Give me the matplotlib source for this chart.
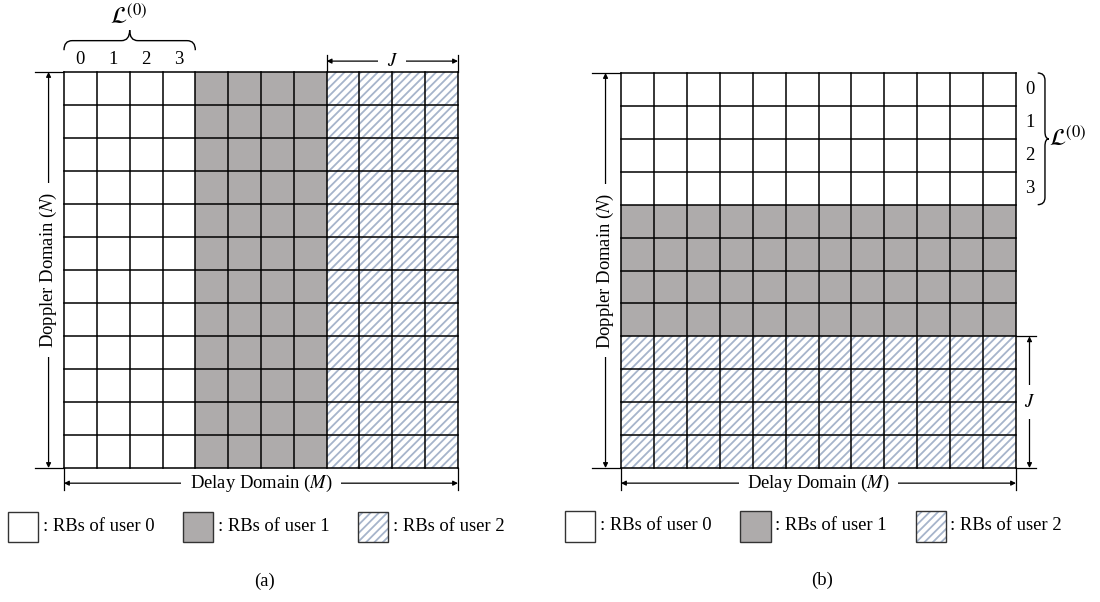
import matplotlib
matplotlib.use("Agg")
import matplotlib.pyplot as plt
from matplotlib.patches import Rectangle, PathPatch
from matplotlib.path import Path

plt.rcParams['font.family'] = ['Liberation Serif', 'DejaVu Serif']
plt.rcParams['mathtext.fontset'] = 'stix'
plt.rcParams['hatch.linewidth'] = 1.3

# resource grid: 12 delay bins x 12 Doppler bins
M = 12
N = 12
# which user owns each column (a) / each row (b)
owner_a = [0, 0, 0, 0, 1, 1, 1, 1, 2, 2, 2, 2]
owner_b = [0, 0, 0, 0, 1, 1, 1, 1, 2, 2, 2, 2]
index_labels = ["0", "1", "2", "3"]
legend_labels = [": RBs of user 0", ": RBs of user 1", ": RBs of user 2"]
panel_tags = ["(a)", "(b)"]

GRAY = '#aeabab'
HATCH = '#a6b4cb'
FS = 13.4


def user_cell(ax, x, y, w, h, user, edge=None, lw=0, z=2):
    if user == 2:
        p = Rectangle((x, y), w, h, facecolor='white', edgecolor=HATCH,
                      hatch='////', lw=0, zorder=z, clip_on=False)
        ax.add_patch(p)
        if edge:
            ax.add_patch(Rectangle((x, y), w, h, fill=False, edgecolor=edge,
                                   lw=lw, zorder=z + 0.1, clip_on=False))
    else:
        fc = 'white' if user == 0 else GRAY
        ax.add_patch(Rectangle((x, y), w, h, facecolor=fc,
                               edgecolor=edge if edge else 'none', lw=lw,
                               zorder=z, clip_on=False))


def brace(ax, a0, a1, base, mid, tip, horizontal=True, r=0.25):
    # curly brace between a0 and a1; base = ends, mid = straight part, tip = point
    c = (a0 + a1) / 2
    pts = [(a0, base), (a0, mid), (a0 + r, mid),
           (c - r, mid), (c, mid), (c, tip),
           (c, mid), (c + r, mid),
           (a1 - r, mid), (a1, mid), (a1, base)]
    codes = [Path.MOVETO, Path.CURVE3, Path.CURVE3,
             Path.LINETO, Path.CURVE3, Path.CURVE3,
             Path.CURVE3, Path.CURVE3,
             Path.LINETO, Path.CURVE3, Path.CURVE3]
    if not horizontal:
        pts = [(q, p) for p, q in pts]
    ax.add_patch(PathPatch(Path(pts, codes), fill=False, lw=1.0,
                           edgecolor='black', clip_on=False))


def dim_arrow(ax, p0, p1, label, rotation=0):
    ax.annotate("", xy=p1, xytext=p0, annotation_clip=False,
                arrowprops=dict(arrowstyle='<|-|>', lw=0.9, color='black',
                                mutation_scale=7, shrinkA=0, shrinkB=0),
                zorder=1)
    cx = (p0[0] + p1[0]) / 2
    cy = (p0[1] + p1[1]) / 2
    ax.text(cx, cy, label, ha='center', va='center', fontsize=FS,
            rotation=rotation, zorder=1.5,
            bbox=dict(boxstyle='square,pad=0.45', fc='white', ec='none'))


def tick(ax, x0, y0, x1, y1):
    ax.plot([x0, x1], [y0, y1], color='black', lw=0.9, clip_on=False,
            zorder=1)


def draw_common(ax, tag):
    # grid lines
    for k in range(M + 1):
        ax.plot([k, k], [0, N], color='black', lw=1.1, zorder=5,
                clip_on=False)
    for k in range(N + 1):
        ax.plot([0, M], [k, k], color='black', lw=1.1, zorder=5,
                clip_on=False)
    # Doppler dimension
    tick(ax, -0.87, 0, 0, 0)
    tick(ax, -0.87, N, 0, N)
    dim_arrow(ax, (-0.47, N), (-0.47, 0), "Doppler Domain ($N$)",
              rotation=90)
    # delay dimension
    tick(ax, 0, N, 0, N + 0.68)
    tick(ax, M, N, M, N + 0.68)
    dim_arrow(ax, (0, N + 0.46), (M, N + 0.46), "Delay Domain ($M$)")
    # legend
    box_x = [-1.7, 3.63, 8.96]
    for u, (bx, lab) in enumerate(zip(box_x, legend_labels)):
        user_cell(ax, bx, N + 1.32, 0.92, 0.92, u, edge='#333333', lw=1.0)
        ax.text(bx + 1.05, N + 1.76, lab, ha='left', va='center',
                fontsize=FS)
    ax.text(6.12, N + 3.42, tag, ha='center', va='center', fontsize=FS)


fig = plt.figure(figsize=(11, 6.02), dpi=100)

# (a): users split along the delay axis
ax1 = fig.add_axes([64 / 1100, 134 / 602, 394 / 1100, 396 / 602])
ax1.set_xlim(0, M)
ax1.set_ylim(N, 0)
ax1.axis('off')
for i in range(M):
    for j in range(N):
        user_cell(ax1, i, j, 1, 1, owner_a[i])
draw_common(ax1, panel_tags[0])
for i, lab in enumerate(index_labels):
    ax1.text(i + 0.5, -0.38, lab, ha='center', va='center', fontsize=FS)
brace(ax1, 0, 4, -0.66, -0.95, -1.27, horizontal=True)
ax1.text(1.98, -1.68, r"$\mathcal{L}^{(0)}$", ha='center', va='center',
         fontsize=17)
tick(ax1, 8, -0.52, 8, 0)
tick(ax1, M, -0.52, M, 0)
dim_arrow(ax1, (8, -0.33), (M, -0.33), "$J$")

# (b): users split along the Doppler axis
ax2 = fig.add_axes([621 / 1100, 134 / 602, 395 / 1100, 395 / 602])
ax2.set_xlim(0, M)
ax2.set_ylim(N, 0)
ax2.axis('off')
for i in range(M):
    for j in range(N):
        user_cell(ax2, i, j, 1, 1, owner_b[j])
draw_common(ax2, panel_tags[1])
for j, lab in enumerate(index_labels):
    ax2.text(M + 0.43, j + 0.5, lab, ha='center', va='center', fontsize=FS)
brace(ax2, 0, 4, M + 0.66, M + 0.88, M + 1.0, horizontal=False, r=0.22)
ax2.text(M + 1.0, 1.98, r"$\mathcal{L}^{(0)}$", ha='left', va='center',
         fontsize=17)
tick(ax2, M, 8, M + 0.6, 8)
tick(ax2, M, N, M + 0.6, N)
dim_arrow(ax2, (M + 0.41, 8), (M + 0.41, N), "$J$")

fig.savefig("out.png", dpi=100)
